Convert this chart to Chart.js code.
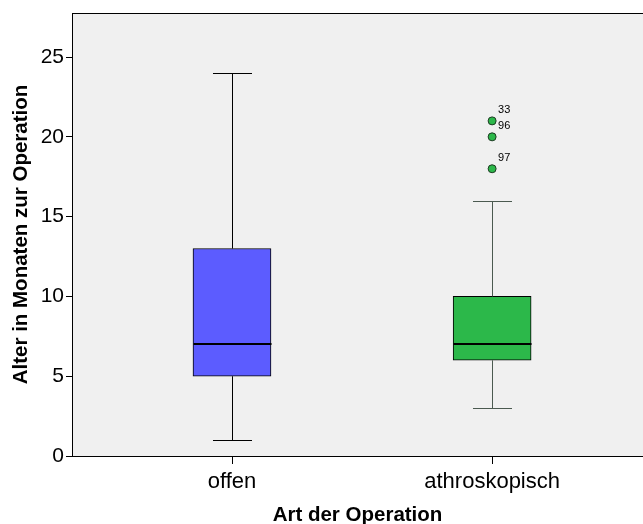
<!DOCTYPE html>
<html>
<head>
<meta charset="utf-8">
<script src="https://cdn.jsdelivr.net/npm/chart.js@4"></script>
<style>
  html, body { margin: 0; padding: 0; background: #fff; }
  #wrap { width: 643px; height: 524px; }
</style>
</head>
<body>
<div id="wrap"><canvas id="boxChart" width="643" height="524"></canvas></div>
<script>
// Daten
const categories = ['offen', 'athroskopisch'];
const whiskerLow = [1, 3];
const q1 = [5, 6];
const median = [7, 7];
const q3 = [13, 10];
const whiskerHigh = [24, 16];
const boxColors = ['#5c5cff', '#2cb84a'];
const whiskerColors = ['#000000', '#4b5a50'];
const outlierValues = [21, 20, 18];
const outlierGroup = [2, 2, 2];
const outlierIds = ['33', '96', '97'];
const yTicks = [0, 5, 10, 15, 20, 25];

const FONT = 'Arial, "Liberation Sans", sans-serif';

// Hintergrund des Plotbereichs
const bgPlugin = {
    id: 'plotBg',
    beforeDraw(chart) {
        const { ctx, chartArea: a } = chart;
        ctx.save();
        ctx.fillStyle = '#f0f0f0';
        ctx.fillRect(a.left, a.top, a.right - a.left, a.bottom - a.top);
        ctx.restore();
    },
    afterDraw(chart) {
        const { ctx, chartArea: a, scales: { x } } = chart;
        ctx.save();
        ctx.fillStyle = '#000';
        // obere Rahmenlinie
        ctx.fillRect(a.left, Math.round(a.top), a.right - a.left, 1);
        // Teilstriche an der x-Achse
        categories.forEach((c, i) => {
            const cx = Math.round(x.getPixelForValue(i + 1));
            ctx.fillRect(cx, Math.round(a.bottom), 1, 8);
        });
        ctx.restore();
    }
};

// Whisker, Mediane und Ausreißer-Beschriftungen
const boxPlugin = {
    id: 'boxParts',
    afterDatasetsDraw(chart) {
        const { ctx, scales: { x, y } } = chart;
        ctx.save();
        categories.forEach((c, i) => {
            const cx = Math.round(x.getPixelForValue(i + 1)) + 0.5;
            const capHalf = x.getPixelForValue(i + 1.075) - x.getPixelForValue(i + 1);
            const boxHalf = 39;
            const lowY = Math.round(y.getPixelForValue(whiskerLow[i])) + 0.5;
            const highY = Math.round(y.getPixelForValue(whiskerHigh[i])) + 0.5;
            ctx.strokeStyle = whiskerColors[i];
            ctx.lineWidth = 1;
            ctx.beginPath();
            // unterer Whisker
            ctx.moveTo(cx, y.getPixelForValue(q1[i]));
            ctx.lineTo(cx, lowY);
            ctx.moveTo(cx - capHalf, lowY);
            ctx.lineTo(cx + capHalf, lowY);
            // oberer Whisker
            ctx.moveTo(cx, y.getPixelForValue(q3[i]));
            ctx.lineTo(cx, highY);
            ctx.moveTo(cx - capHalf, highY);
            ctx.lineTo(cx + capHalf, highY);
            ctx.stroke();

            // Median
            ctx.strokeStyle = '#000';
            ctx.lineWidth = 2;
            ctx.beginPath();
            const my = Math.round(y.getPixelForValue(median[i]));
            ctx.moveTo(cx - boxHalf, my);
            ctx.lineTo(cx + boxHalf, my);
            ctx.stroke();
        });

        // Fallnummern der Ausreißer
        ctx.fillStyle = '#000';
        ctx.font = '11px ' + FONT;
        ctx.textBaseline = 'alphabetic';
        outlierValues.forEach((v, k) => {
            const px = x.getPixelForValue(outlierGroup[k]);
            const py = y.getPixelForValue(v);
            ctx.fillText(outlierIds[k], px + 6, py - 8);
        });
        ctx.restore();
    }
};

const ctx = document.getElementById('boxChart');

new Chart(ctx, {
    data: {
        datasets: [
            {
                type: 'bar',
                label: 'Box',
                data: categories.map((c, i) => ({ x: i + 1, y: [q1[i], q3[i]] })),
                backgroundColor: boxColors,
                borderColor: '#000',
                borderWidth: 1,
                borderSkipped: false,
                barThickness: 78,
                order: 2
            },
            {
                type: 'scatter',
                label: 'Ausreißer',
                data: outlierValues.map((v, k) => ({ x: outlierGroup[k], y: v })),
                backgroundColor: '#2cb84a',
                borderColor: '#1d3a22',
                borderWidth: 1,
                pointRadius: 4,
                order: 1
            }
        ]
    },
    options: {
        responsive: false,
        animation: false,
        layout: { autoPadding: false, padding: { top: 13, right: 0, left: 0, bottom: 0 } },
        plugins: {
            legend: { display: false },
            tooltip: { enabled: false }
        },
        scales: {
            x: {
                type: 'linear',
                min: 0.385,
                max: 2.58,
                offset: false,
                afterBuildTicks: (scale) => {
                    scale.ticks = categories.map((c, i) => ({ value: i + 1 }));
                },
                afterFit: (scale) => {
                    scale.height = 68;
                    scale.paddingLeft = 0;
                    scale.paddingRight = 0;
                },
                ticks: {
                    color: '#000',
                    font: { family: FONT, size: 22 },
                    padding: 13,
                    autoSkip: false,
                    maxRotation: 0,
                    callback: (v) => categories[Math.round(v) - 1] || ''
                },
                grid: {
                    offset: false,
                    drawOnChartArea: false,
                    drawTicks: false,
                    color: '#000'
                },
                border: { display: true, color: '#000', width: 1 },
                title: {
                    display: true,
                    text: 'Art der Operation',
                    color: '#000',
                    font: { family: FONT, size: 20.5, weight: 'bold' },
                    padding: { top: 0, bottom: -4 }
                }
            },
            y: {
                type: 'linear',
                min: 0,
                max: 27.76,
                afterBuildTicks: (scale) => {
                    scale.ticks = yTicks.map(v => ({ value: v }));
                },
                afterFit: (scale) => {
                    scale.width = 72;
                    scale.paddingTop = 0;
                    scale.paddingBottom = 0;
                },
                ticks: {
                    color: '#000',
                    font: { family: FONT, size: 21 },
                    padding: 2
                },
                grid: {
                    drawOnChartArea: false,
                    drawTicks: true,
                    tickLength: 6,
                    color: '#000'
                },
                border: { display: true, color: '#000', width: 1 },
                title: {
                    display: true,
                    text: 'Alter in Monaten zur Operation',
                    color: '#000',
                    font: { family: FONT, size: 20.5, weight: 'bold' },
                    padding: { top: 9, bottom: 0 }
                }
            }
        }
    },
    plugins: [bgPlugin, boxPlugin]
});
</script>
</body>
</html>
